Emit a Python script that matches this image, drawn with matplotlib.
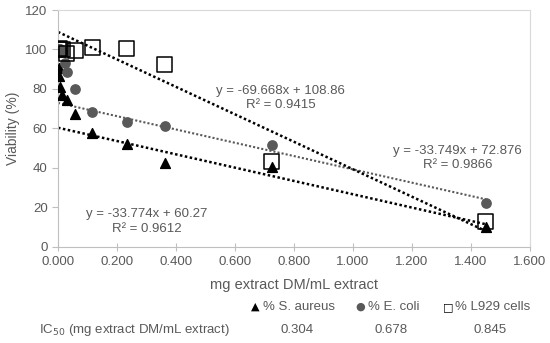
import matplotlib.pyplot as plt

plt.rcParams['font.family'] = ['Liberation Sans', 'DejaVu Sans']

# % S. aureus
sa_x = [0.0009, 0.0018, 0.0036, 0.0072, 0.0145, 0.029, 0.058, 0.116, 0.2325, 0.3625, 0.725, 1.45]
sa_y = [100, 90.5, 86.4, 80.7, 76.8, 74.3, 67, 57.4, 52, 42.2, 40.5, 10]
# % E. coli
ec_x = [0.0018, 0.0036, 0.0072, 0.0145, 0.023, 0.031, 0.058, 0.116, 0.2325, 0.3625, 0.725, 1.45]
ec_y = [100, 100, 100, 99, 92.9, 88.6, 79.9, 68, 63.3, 61.3, 51.5, 22.2]
# % L929 cells
lc_x = [0.0009, 0.0036, 0.0145, 0.029, 0.058, 0.116, 0.2325, 0.3625, 0.725, 1.45]
lc_y = [100, 100.5, 100, 98, 99.5, 101, 100.3, 92.3, 43, 12.5]

# trend lines (slope, intercept) as printed on the chart
sa_fit = (-33.774, 60.27)
ec_fit = (-33.749, 72.876)
lc_fit = (-69.668, 108.86)
fit_x = [0, 1.45]

legend_names = ['% S. aureus', '% E. coli', '% L929 cells']
legend_glyphs = ['▲', '●', '□']
ic50_labels = ['0.304', '0.678', '0.845']

fig = plt.figure(figsize=(5.5, 3.43), dpi=100)
ax = fig.add_axes([58 / 550, 1 - 246.5 / 343, 472 / 550, 236.5 / 343])

grey = '#595959'
ax.plot(fit_x, [sa_fit[1] + sa_fit[0] * x for x in fit_x], color='black', linestyle=(0, (1, 1)), linewidth=1.8, zorder=2)
ax.plot(fit_x, [ec_fit[1] + ec_fit[0] * x for x in fit_x], color=grey, linestyle=(0, (1, 1)), linewidth=1.5, zorder=2)
ax.plot(fit_x, [lc_fit[1] + lc_fit[0] * x for x in fit_x], color='black', linestyle=(0, (1, 1)), linewidth=1.8, zorder=2)

ax.scatter(sa_x, sa_y, marker='^', s=50, color='black', zorder=3)
ax.scatter(ec_x, ec_y, marker='o', s=45, color=grey, zorder=3)
ax.scatter(lc_x, lc_y, marker='s', s=115, facecolor='none', edgecolor='black', linewidth=1.1, zorder=4)

ax.set_xlim(0, 1.6)
ax.set_ylim(0, 120)
ax.set_xticks([0, 0.2, 0.4, 0.6, 0.8, 1.0, 1.2, 1.4, 1.6])
ax.set_xticklabels(['%.3f' % v for v in ax.get_xticks()])
ax.set_yticks(range(0, 121, 20))
ax.tick_params(labelsize=9.5, labelcolor=grey, color='#bfbfbf', length=4)
ax.tick_params(axis='x', direction='inout', length=6)
for s in ['left', 'bottom']:
    ax.spines[s].set_color('#bfbfbf')
for s in ['top', 'right']:
    ax.spines[s].set_color('#d9d9d9')
ax.set_ylabel('Viability (%)', fontsize=10, color=grey, labelpad=4)

tk = dict(fontsize=9.5, color=grey, ha='center', va='center', linespacing=1.25)
ax.text(0.755, 75.3, 'y = -69.668x + 108.86\nR² = 0.9415', **tk)
ax.text(1.355, 44.9, 'y = -33.749x + 72.876\nR² = 0.9866', **tk)
ax.text(0.30, 12.7, 'y = -33.774x + 60.27\nR² = 0.9612', **tk)

fig.text(294 / 550, 1 - 285 / 343, 'mg extract DM/mL extract', fontsize=10.5, color=grey, ha='center', va='center')

ly = 1 - 307 / 343
glyph_colors = ['black', grey, 'black']
for gx, tx, g, gc, name in zip([255, 360, 448], [263, 368, 455], legend_glyphs, glyph_colors, legend_names):
    fig.text(gx / 550, ly, g, fontsize=8, color=gc, ha='center', va='center', family=['DejaVu Sans'])
    fig.text(tx / 550, ly, name, fontsize=9.5, color=grey, va='center')

iy = 1 - 330 / 343
fig.text(39 / 550, iy, 'IC$_{50}$ (mg extract DM/mL extract)', fontsize=9.5, color=grey, va='center')
for xc, lab in zip([296.7, 390.7, 490], ic50_labels):
    fig.text(xc / 550, iy, lab, fontsize=9.5, color=grey, ha='center', va='center')

fig.savefig('out.png', dpi=100)
